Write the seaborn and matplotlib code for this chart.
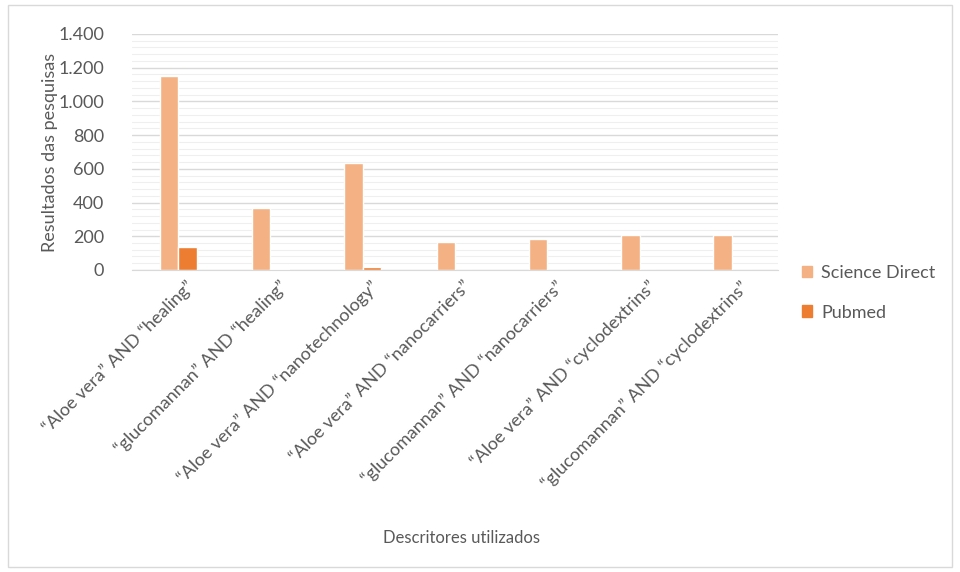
import numpy as np
import pandas as pd
from matplotlib import pyplot as plt
from matplotlib.ticker import FuncFormatter, MultipleLocator
from matplotlib.patches import Rectangle
import matplotlib.transforms as mtransforms
import seaborn as sns

descritores = ['“Aloe vera” AND “healing”', '“glucomannan” AND “healing”',
               '“Aloe vera” AND “nanotechnology”', '“Aloe vera” AND “nanocarriers”',
               '“glucomannan” AND “nanocarriers”', '“Aloe vera” AND “cyclodextrins”',
               '“glucomannan” AND “cyclodextrins”']
science_direct = [1150, 365, 635, 168, 186, 210, 210]
pubmed = [138, 8, 16, 0, 0, 0, 0]

df = pd.DataFrame({
    'Descritor': descritores * 2,
    'Base': ['Science Direct'] * 7 + ['Pubmed'] * 7,
    'Resultados': science_direct + pubmed,
})

sns.set_style('white')
plt.rcParams['font.family'] = ['Lato', 'DejaVu Sans']
txt = '#595959'
fs = 13

fig = plt.figure(figsize=(9.6, 5.72), dpi=100)
ax = fig.add_axes([0.1375, 0.528, 0.673, 0.4126])
sns.barplot(data=df, x='Descritor', y='Resultados', hue='Base',
            palette=['#F4B183', '#ED7D31'], saturation=1, width=0.4, gap=0,
            ax=ax, legend=False)

ax.set_ylim(0, 1400)
ax.set_xlim(-0.5, 6.5)
ax.yaxis.set_major_locator(MultipleLocator(200))
ax.yaxis.set_minor_locator(MultipleLocator(40))
ax.yaxis.set_major_formatter(FuncFormatter(lambda v, p: f'{int(v):,}'.replace(',', '.')))
ax.grid(axis='y', which='major', color='#D9D9D9', lw=1)
ax.grid(axis='y', which='minor', color='#EFEFEF', lw=0.8)
ax.set_axisbelow(True)
for s in ['top', 'right', 'left']:
    ax.spines[s].set_visible(False)
ax.spines['bottom'].set_color('#D9D9D9')
ax.tick_params(axis='both', which='both', length=0, colors=txt, labelsize=fs)
ax.tick_params(axis='y', pad=20)
ax.tick_params(axis='x', pad=6)
shift = mtransforms.ScaledTranslation(8 / 100, 0, fig.dpi_scale_trans)
for lab in ax.get_xticklabels():
    lab.set_rotation(45)
    lab.set_ha('right')
    lab.set_rotation_mode('anchor')
    lab.set_transform(lab.get_transform() + shift)
ax.set_xlabel('Descritores utilizados', color=txt, fontsize=12)
ax.xaxis.set_label_coords(0.51, -1.1)
ax.set_ylabel('Resultados das pesquisas', color=txt, fontsize=fs)
ax.yaxis.set_label_coords(-0.115, 0.5)

handles = [Rectangle((0, 0), 1, 1, color='#F4B183'), Rectangle((0, 0), 1, 1, color='#ED7D31')]
fig.legend(handles, ['Science Direct', 'Pubmed'], loc='upper left', bbox_to_anchor=(0.818, 0.565),
           frameon=False, fontsize=fs, labelcolor=txt, handlelength=0.6, handleheight=0.6,
           handletextpad=0.5, labelspacing=1.3)

fig.patches.append(Rectangle((0.008, 0.008), 0.984, 0.984, transform=fig.transFigure,
                             fill=False, edgecolor='#D9D9D9', lw=1))
fig.savefig('out.png', dpi=100)
